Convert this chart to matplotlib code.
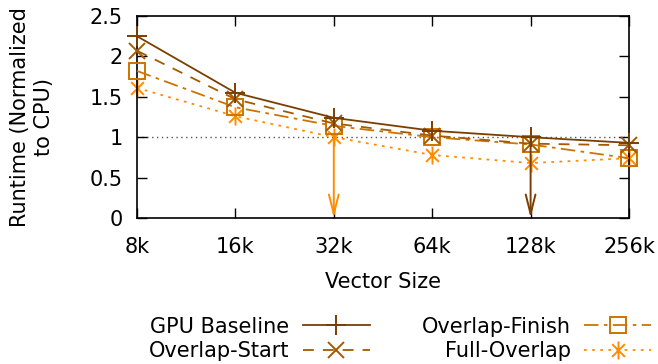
import matplotlib
matplotlib.use("Agg")
import matplotlib.pyplot as plt
from matplotlib.path import Path
import numpy as np

categories = ["8k", "16k", "32k", "64k", "128k", "256k"]
gpu_baseline = [2.25, 1.55, 1.24, 1.08, 1.00, 0.93]
overlap_start = [2.07, 1.47, 1.17, 1.02, 0.92, 0.90]
overlap_finish = [1.82, 1.37, 1.14, 1.00, 0.91, 0.74]
full_overlap = [1.61, 1.26, 1.00, 0.78, 0.68, 0.74]
arrow_idx = [2, 4]
arrow_top = [1.00, 1.00]

yticks = [0, 0.5, 1, 1.5, 2, 2.5]
ytick_labels = ["0", "0.5", "1", "1.5", "2", "2.5"]

c_base = "#7a3f00"
c_start = "#a35a00"
c_finish = "#cc7400"
c_full = "#ff8c00"

d = 0.7071
star = Path([(0, -1), (0, 1), (-d, -d), (d, d), (-d, d), (d, -d)],
            [Path.MOVETO, Path.LINETO, Path.MOVETO, Path.LINETO, Path.MOVETO, Path.LINETO])

FS = 15
plt.rcParams['font.family'] = ['DejaVu Sans']
fig = plt.figure(figsize=(6.58, 3.64), dpi=100)
ax = fig.add_axes([137/658, 1-218/364, (629-137)/658, (218-16)/364])
x = np.arange(len(categories))

ax.axhline(1.0, color="#555555", lw=1, ls=(0, (1, 2.5)), zorder=1)

lw = 1.3
ax.plot(x, gpu_baseline, color=c_base, lw=lw, ls="-", marker="+", ms=14, mew=1.4,
        label="GPU Baseline", zorder=5, clip_on=False)
ax.plot(x, overlap_start, color=c_start, lw=lw, ls=(0, (6, 5)), marker="x", ms=11, mew=1.4,
        label="Overlap-Start", zorder=4, clip_on=False)
ax.plot(x, overlap_finish, color=c_finish, lw=lw, ls=(0, (8, 3, 2, 3)), marker="s", ms=12,
        mew=1.4, mfc="none", label="Overlap-Finish", zorder=3, clip_on=False)
ax.plot(x, full_overlap, color=c_full, lw=lw, ls=(0, (1.5, 3)), marker=star, ms=13, mew=1.4,
        label="Full-Overlap", zorder=2, clip_on=False)

arrow_colors = [c_full, c_base]
for i, top, col in zip(arrow_idx, arrow_top, arrow_colors):
    ax.annotate("", xy=(x[i], 0), xytext=(x[i], top),
                arrowprops=dict(arrowstyle="->,head_length=1.4,head_width=0.35", color=col, lw=1.4,
                                shrinkA=0, shrinkB=0), zorder=6)

ax.set_xlim(0, len(categories) - 1)
ax.set_ylim(0, 2.5)
ax.set_xticks(x)
ax.set_xticklabels(categories)
ax.set_yticks(yticks)
ax.set_yticklabels(ytick_labels)
ax.tick_params(direction="in", length=7.5, width=1, top=True, right=True, labelsize=FS)
ax.tick_params(axis="x", pad=14)
ax.tick_params(axis="y", pad=10)
for s in ax.spines.values():
    s.set_linewidth(1.2)
ax.set_xlabel("Vector Size", fontsize=FS, labelpad=10.5)
ax.set_ylabel("Runtime (Normalized\nto CPU)", fontsize=FS, labelpad=26, linespacing=1.25)

h, l = ax.get_legend_handles_labels()
fig.legend(h, l, ncol=2, loc="lower center",
           bbox_to_anchor=(0.608, -0.043), frameon=False, fontsize=FS, markerfirst=False,
           handlelength=3.2, columnspacing=2.5, labelspacing=0.2, handletextpad=0.65)

fig.savefig("out.png", dpi=100)
